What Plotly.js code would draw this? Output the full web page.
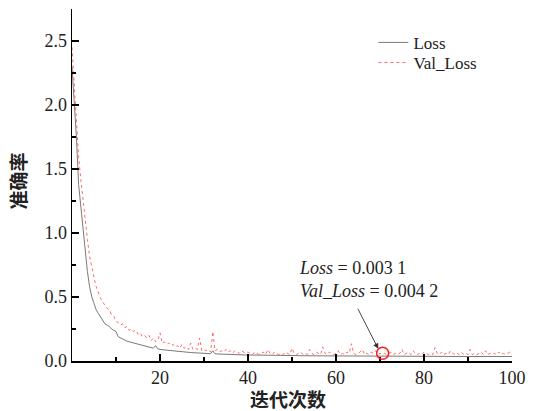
<!DOCTYPE html>
<html>
<head>
<meta charset="utf-8">
<script src="https://cdn.plot.ly/plotly-3.0.1.min.js"></script>
<style>html,body{margin:0;padding:0;background:#fff;}#chart{width:533px;height:411px;}</style>
</head>
<body>
<div id="chart"></div>
<script>
// epoch step between samples (x = index * step)
const epochStep = 0.5;

const lossValues = [
2.30,2.05,1.75,1.38,1.20,1.02,0.90,0.70,0.58,0.50,
0.45,0.40,0.37,0.34,0.31,0.29,0.28,0.27,0.25,0.24,
0.23,0.19,0.18,0.17,0.16,0.155,0.15,0.145,0.14,0.135,
0.13,0.125,0.12,0.115,0.11,0.107,0.103,0.10,0.12,0.095,
0.09,0.088,0.085,0.083,0.081,0.079,0.077,0.075,0.074,0.072,
0.071,0.069,0.068,0.067,0.066,0.065,0.064,0.063,0.062,0.061,
0.060,0.059,0.058,0.057,0.08,0.056,0.055,0.054,0.053,0.053,
0.052,0.051,0.051,0.050,0.050,0.049,0.049,0.048,0.048,0.047,
0.047,0.047,0.046,0.046,0.046,0.045,0.045,0.045,0.045,0.044,
0.044,0.044,0.044,0.043,0.043,0.043,0.043,0.043,0.042,0.042,
0.042,0.042,0.042,0.042,0.041,0.041,0.041,0.041,0.041,0.041,
0.041,0.040,0.040,0.040,0.040,0.040,0.040,0.040,0.040,0.040,
0.040,0.040,0.039,0.039,0.039,0.039,0.039,0.039,0.039,0.039,
0.039,0.039,0.039,0.038,0.038,0.038,0.038,0.038,0.038,0.038,
0.038,0.038,0.038,0.038,0.038,0.037,0.037,0.037,0.037,0.037,
0.037,0.037,0.037,0.037,0.037,0.037,0.037,0.036,0.036,0.036,
0.036,0.036,0.036,0.036,0.036,0.036,0.036,0.036,0.036,0.036,
0.036,0.035,0.035,0.035,0.035,0.035,0.035,0.035,0.035,0.035,
0.035,0.035,0.035,0.035,0.035,0.035,0.035,0.035,0.035,0.035,
0.035,0.035,0.035,0.035,0.035,0.035,0.035,0.035,0.035,0.035,
0.035
];

const valLossValues = [
2.45,2.15,1.85,1.60,1.42,1.25,1.08,0.95,0.82,0.72,
0.65,0.58,0.53,0.49,0.46,0.43,0.41,0.40,0.36,0.35,
0.31,0.30,0.28,0.29,0.26,0.27,0.24,0.25,0.23,0.24,
0.21,0.22,0.19,0.20,0.18,0.20,0.16,0.18,0.15,0.16,
0.22,0.14,0.15,0.13,0.14,0.12,0.13,0.11,0.12,0.10,
0.13,0.10,0.11,0.09,0.14,0.09,0.10,0.09,0.18,0.08,
0.09,0.08,0.09,0.07,0.23,0.08,0.09,0.07,0.08,0.07,
0.09,0.07,0.08,0.06,0.08,0.07,0.06,0.08,0.07,0.06,
0.07,0.06,0.05,0.07,0.06,0.05,0.06,0.07,0.05,0.09,
0.06,0.05,0.07,0.06,0.05,0.06,0.05,0.07,0.06,0.05,
0.10,0.06,0.05,0.06,0.07,0.05,0.06,0.05,0.09,0.06,
0.05,0.07,0.06,0.05,0.11,0.06,0.05,0.07,0.06,0.05,
0.06,0.08,0.05,0.06,0.05,0.07,0.06,0.135,0.06,0.05,
0.06,0.07,0.09,0.05,0.06,0.05,0.07,0.06,0.08,0.05,
0.06,0.05,0.06,0.05,0.06,0.07,0.05,0.06,0.05,0.06,
0.09,0.05,0.06,0.07,0.05,0.08,0.06,0.05,0.06,0.05,
0.07,0.06,0.05,0.06,0.05,0.105,0.06,0.05,0.07,0.05,
0.06,0.05,0.08,0.06,0.05,0.06,0.05,0.07,0.05,0.06,
0.05,0.09,0.05,0.06,0.05,0.06,0.07,0.05,0.08,0.05,
0.06,0.05,0.06,0.05,0.07,0.05,0.06,0.05,0.06,0.07,
0.05
];

const xTickVals = [20, 40, 60, 80, 100];
const yTickVals = [0, 0.5, 1.0, 1.5, 2.0, 2.5];
const yTickText = ["0.0", "0.5", "1.0", "1.5", "2.0", "2.5"];
const seriesNames = ["Loss", "Val_Loss"];
const markPoint = {x: 70.6, y: 0.06};
const annoText = "<i>Loss</i> = 0.003 1<br><i>Val_Loss</i> = 0.004 2";

const epochs = lossValues.map((_, i) => i * epochStep);

const serif = "Liberation Serif, Times New Roman, serif";
const cjk = "Noto Sans CJK SC, sans-serif";

const traces = [
  {x: epochs, y: lossValues, name: seriesNames[0], type: "scatter", mode: "lines",
   legend: "legend", line: {color: "#7a7a7a", width: 1}},
  {x: epochs, y: valLossValues, name: seriesNames[1], type: "scatter", mode: "lines",
   legend: "legend2", line: {color: "#ff5a5a", width: 0.9, dash: "dot"}}
];

const axisCommon = {
  showgrid: false, zeroline: false, showline: true, linecolor: "#000", linewidth: 1.5,
  ticks: "inside", ticklen: 7, tickwidth: 1.5, tickcolor: "#000",
  tickfont: {family: serif, size: 18, color: "#222"},
  minor: {ticks: "inside", ticklen: 4, tickwidth: 1.2, tickcolor: "#000"}
};

const legendCommon = {x: 0.685, xanchor: "left", yanchor: "top",
  font: {family: serif, size: 17, color: "#222"}, bgcolor: "rgba(0,0,0,0)"};

const layout = {
  width: 533, height: 411,
  margin: {l: 72, r: 21, t: 9, b: 50},
  paper_bgcolor: "#fff", plot_bgcolor: "#fff",
  showlegend: true,
  legend: Object.assign({}, legendCommon, {y: 0.955}),
  legend2: Object.assign({}, legendCommon, {y: 0.898}),
  xaxis: Object.assign({}, axisCommon, {
    range: [0, 100], tickvals: xTickVals, ticktext: xTickVals.map(String),
    minor: Object.assign({}, axisCommon.minor, {tickvals: [10, 30, 50, 70, 90]})
  }),
  yaxis: Object.assign({}, axisCommon, {
    range: [0, 2.75], tickvals: yTickVals, ticktext: yTickText,
    minor: Object.assign({}, axisCommon.minor, {tickvals: [0.25, 0.75, 1.25, 1.75, 2.25]})
  }),
  shapes: [
    {type: "circle", xref: "x", yref: "y", xsizemode: "pixel", ysizemode: "pixel",
     xanchor: markPoint.x, yanchor: markPoint.y, x0: -6, x1: 6, y0: -6, y1: 6,
     line: {color: "#ff1a1a", width: 1.5}}
  ],
  annotations: [
    {x: 51.1, y: 0.82, xref: "x", yref: "y", xanchor: "left", yanchor: "top",
     text: annoText, showarrow: false, align: "left",
     font: {family: serif, size: 18, color: "#222"}},
    {x: 69.6, y: 0.095, xref: "x", yref: "y", ax: 64.8, ay: 0.42, axref: "x", ayref: "y",
     text: "", showarrow: true, arrowhead: 2, arrowsize: 1.2, arrowwidth: 0.9, arrowcolor: "#333"},
    {x: 0.49, y: -0.106, xref: "paper", yref: "paper", xanchor: "center", yanchor: "middle",
     text: "<b>迭代次数</b>", showarrow: false,
     font: {family: cjk, size: 19, color: "#222"}},
    {x: -0.125, y: 0.51, xref: "paper", yref: "paper", xanchor: "center", yanchor: "middle",
     text: "<b>准确率</b>", showarrow: false, textangle: -90,
     font: {family: cjk, size: 19, color: "#222"}}
  ]
};

Plotly.newPlot("chart", traces, layout, {displayModeBar: false, staticPlot: true});
</script>
</body>
</html>
